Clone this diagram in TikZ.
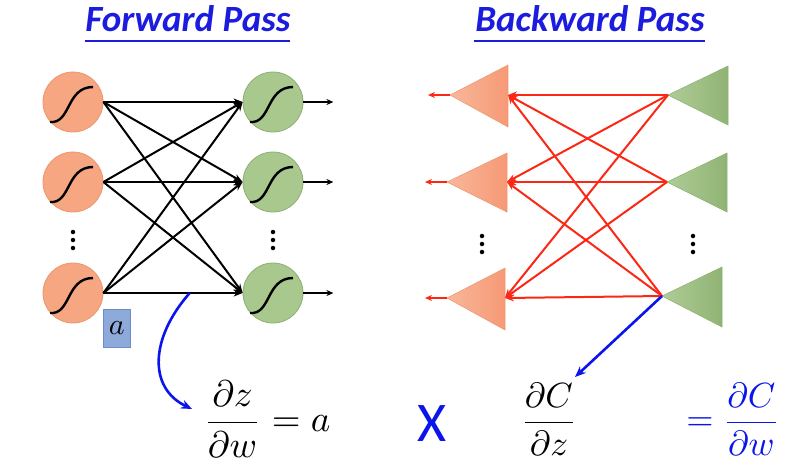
\documentclass[tikz,border=0pt]{standalone}
\usepackage{graphicx}
\usepackage{fontspec}
\newfontfamily\calib{Carlito}
\usetikzlibrary{arrows.meta,calc}
\definecolor{ttl}{RGB}{28,28,222}
\definecolor{orf}{RGB}{246,166,128}
\definecolor{ord}{RGB}{236,150,110}
\definecolor{grf}{RGB}{168,200,142}
\definecolor{grd}{RGB}{140,176,112}
\definecolor{abox}{RGB}{142,170,218}
\definecolor{aboxd}{RGB}{110,140,200}
\definecolor{redl}{RGB}{250,40,20}
\definecolor{blu}{RGB}{10,20,235}
\tikzset{
  ocirc/.style={circle,minimum size=60pt,inner sep=0pt,fill=orf,draw=ord,line width=0.8pt},
  gcirc/.style={circle,minimum size=60pt,inner sep=0pt,fill=grf,draw=grd,line width=0.8pt},
  sig/.style={line width=2.4pt,black},
  fw/.style={line width=2pt,-{Stealth[length=9pt,width=7pt]}},
  bw/.style={line width=2pt,redl,-{Stealth[length=9pt,width=7pt]}},
  bwout/.style={line width=2pt,redl,-{Stealth[length=7pt,width=6pt]}},
  blarr/.style={line width=2.6pt,blu,-{Stealth[length=11pt,width=9pt]}},
  title/.style={font=\calib\bfseries\itshape\fontsize{37}{42}\selectfont,text=ttl,inner sep=0pt},
  mth/.style={inner sep=0pt},
  dot/.style={fill=black,circle,inner sep=0pt,minimum size=4.5pt},
}
\begin{document}
\begin{tikzpicture}[x=1pt,y=-1pt]
\useasboundingbox (0,0) rectangle (798,469);
% titles
\node[title,anchor=base] (t1) at (188,31) {Forward Pass};
\node[title,anchor=base] (t2) at (590,31) {Backward Pass};
\draw[ttl,line width=1.8pt] (85,41) -- (290,41);
\draw[ttl,line width=1.8pt] (474,41) -- (705,41);
% forward nodes
\node[ocirc] (o1) at (73,102) {};
\node[ocirc] (o2) at (73,182) {};
\node[ocirc] (o3) at (73,293) {};
\node[gcirc] (g1) at (273,102) {};
\node[gcirc] (g2) at (273,182) {};
\node[gcirc] (g3) at (273,293) {};
\foreach \n in {o1,o2,o3,g1,g2,g3}
  \draw[sig] ([shift={(-23,20)}]\n.center) .. controls ([shift={(-2,22)}]\n.center) and ([shift={(-7,-15)}]\n.center) .. ([shift={(20,-15)}]\n.center);
\foreach \i in {1,2,3}
  \foreach \j in {1,2,3}
    \draw[fw] (o\i.east) -- (g\j.west);
\foreach \j in {1,2,3}{
  \coordinate (out\j) at ($(g\j.east)+(30,0)$);
  \draw[line width=2pt,-{Stealth[length=7pt,width=6pt]}] (g\j.east) -- (out\j);
}
\foreach \y in {232,240,248}{
  \node[dot] at (73,\y) {};
  \node[dot] at (273,\y) {};
}
% a box
\node[fill=abox,draw=aboxd,line width=0.6pt,minimum width=27pt,minimum height=38pt,inner sep=0pt,anchor=north west] (abx) at (103,309) {\scalebox{3}{$a$}};
% backward triangles
\coordinate (ot1) at (450,95); \coordinate (ob1) at (508,95);
\coordinate (ot2) at (447,182); \coordinate (ob2) at (507,182);
\coordinate (ot3) at (447,298); \coordinate (ob3) at (505,298);
\coordinate (gt1) at (668,95);
\coordinate (gt2) at (667,182);
\coordinate (gt3) at (662,296);
\tikzset{otri/.style={left color=orf!80!white,right color=orf!92!red,draw=ord,line width=0.5pt},
         gtri/.style={left color=grf!92!white,right color=grd!85!grf,draw=grd,line width=0.5pt}}
\shade[otri] (ot1) -- (508,65) -- (508,127) -- cycle;
\shade[otri] (ot2) -- (507,153) -- (507,212) -- cycle;
\shade[otri] (ot3) -- (505,268) -- (505,330) -- cycle;
\shade[gtri] (gt1) -- (728,66) -- (728,125) -- cycle;
\shade[gtri] (gt2) -- (727,153) -- (727,212) -- cycle;
\shade[gtri] (gt3) -- (722,267) -- (722,327) -- cycle;
\foreach \i in {1,2,3}
  \foreach \j in {1,2,3}
    \draw[bw] (gt\i) -- (ob\j);
\foreach \i in {1,2,3}{
  \coordinate (bo\i) at ($(ot\i)+(-22,0)$);
  \draw[bwout] (ot\i) -- (bo\i);
}
\foreach \y in {236,244,252}{
  \node[dot] at (482,\y) {};
  \node[dot] at (693,\y) {};
}
% formulas
\node[mth] (f1) at (267,419) {\scalebox{3.7}{$\displaystyle\frac{\partial z}{\partial w}=a$}};
\node[font=\calib\fontsize{56}{60}\selectfont,text=blu,inner sep=0pt] (xx) at (432,424) {X};
\node[mth] (f2) at (549,419) {\scalebox{3.5}{$\displaystyle\frac{\partial C}{\partial z}$}};
\node[mth,text=blu] (f3) at (733,419) {\scalebox{3.5}{$\displaystyle=\frac{\partial C}{\partial w}$}};
% blue arrows
\coordinate (ba) at ($(o3.east)!0.62!(g3.west)$);
\coordinate (bt) at (192,409);
\draw[blarr] (ba) .. controls (150,338) and (148,388) .. (bt);
\coordinate (bt2) at (575,377);
\draw[blarr] (gt3) -- (bt2);
\end{tikzpicture}
\end{document}
